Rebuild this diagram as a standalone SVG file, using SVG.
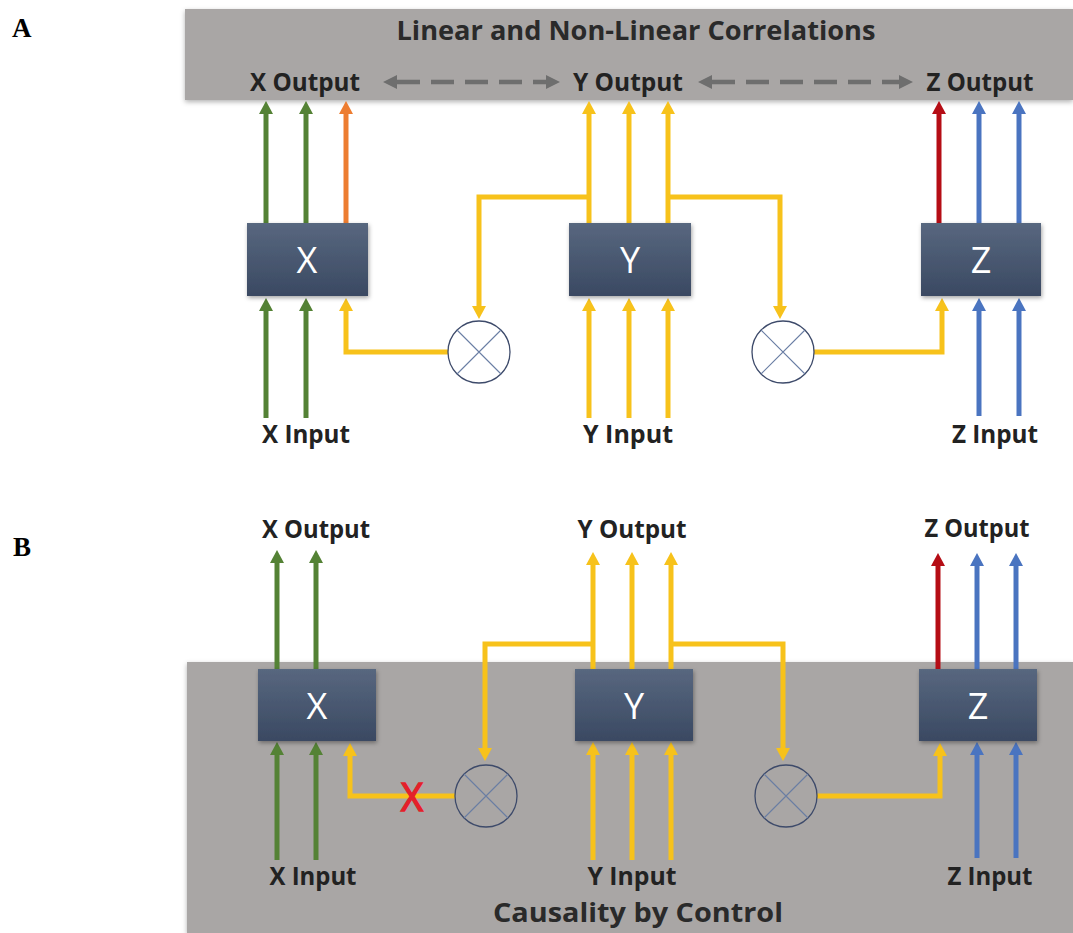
<svg xmlns="http://www.w3.org/2000/svg" width="1073" height="933" viewBox="0 0 1073 933">
<defs>
<style>
.lbl{font-family:"Open Sans","Liberation Sans",sans-serif;font-weight:bold;font-size:25px;fill:#222;text-anchor:middle}
.ttl{font-family:"Open Sans","Liberation Sans",sans-serif;font-weight:bold;font-size:27px;fill:#2a2a2a;text-anchor:middle}
.node{font-family:"Open Sans","Liberation Sans",sans-serif;font-size:36px;fill:#fff;text-anchor:middle}
.panel{font-family:"Liberation Serif",serif;font-weight:bold;font-size:27px;fill:#000}
.box{fill:url(#boxg);filter:url(#sh)}
.g{stroke:#548235;stroke-width:5;fill:none}
.o{stroke:#ed7d31;stroke-width:5;fill:none}
.y{stroke:#f7c21b;stroke-width:5;fill:none}
.r{stroke:#b50d15;stroke-width:5;fill:none}
.b{stroke:#4a74c0;stroke-width:5;fill:none}
.circ{fill:none;stroke:#3d4a6a;stroke-width:1.3}
.cx{stroke:#6a7ea4;stroke-width:1.1}
.dash{stroke:#6e6e6e;stroke-width:4.5;fill:none;stroke-dasharray:23 11}
</style>
<linearGradient id="boxg" x1="0" y1="0" x2="0" y2="1">
<stop offset="0" stop-color="#58677f"/>
<stop offset="1" stop-color="#3a4962"/>
</linearGradient>
<filter id="sh" x="-10%" y="-10%" width="125%" height="130%">
<feDropShadow dx="1" dy="2" stdDeviation="2" flood-color="#000" flood-opacity="0.35"/>
</filter>
<filter id="bsh" x="-5%" y="-20%" width="110%" height="140%">
<feDropShadow dx="0" dy="2" stdDeviation="2.5" flood-color="#000" flood-opacity="0.3"/>
</filter>
<marker id="mg" markerUnits="userSpaceOnUse" markerWidth="14" markerHeight="14" refX="0" refY="7" orient="auto"><path d="M0,0L13,7L0,14z" fill="#548235"/></marker>
<marker id="mo" markerUnits="userSpaceOnUse" markerWidth="14" markerHeight="14" refX="0" refY="7" orient="auto"><path d="M0,0L13,7L0,14z" fill="#ed7d31"/></marker>
<marker id="my" markerUnits="userSpaceOnUse" markerWidth="14" markerHeight="14" refX="0" refY="7" orient="auto"><path d="M0,0L13,7L0,14z" fill="#f7c21b"/></marker>
<marker id="mr" markerUnits="userSpaceOnUse" markerWidth="14" markerHeight="14" refX="0" refY="7" orient="auto"><path d="M0,0L13,7L0,14z" fill="#b50d15"/></marker>
<marker id="mb" markerUnits="userSpaceOnUse" markerWidth="14" markerHeight="14" refX="0" refY="7" orient="auto"><path d="M0,0L13,7L0,14z" fill="#4a74c0"/></marker>
<marker id="md" markerUnits="userSpaceOnUse" markerWidth="16" markerHeight="14" refX="0" refY="7" orient="auto"><path d="M0,0L14,7L0,14z" fill="#6e6e6e"/></marker>
<marker id="mds" markerUnits="userSpaceOnUse" markerWidth="16" markerHeight="14" refX="0" refY="7" orient="auto-start-reverse"><path d="M0,0L14,7L0,14z" fill="#6e6e6e"/></marker>
</defs>
<rect width="1073" height="933" fill="#fff"/>

<!-- bands -->
<rect id="bandA" x="185" y="9" width="888" height="91" fill="#a9a6a5" filter="url(#bsh)"/>
<rect id="bandB" x="187" y="662" width="886" height="271" fill="#a9a6a5" filter="url(#bsh)"/>

<text class="panel" x="12" y="37">A</text>
<text class="panel" x="13" y="556">B</text>

<text class="ttl" x="636" y="40" textLength="479" lengthAdjust="spacingAndGlyphs">Linear and Non-Linear Correlations</text>

<!-- connectors -->
<g id="connectors">
<path class="dash" d="M397,82H546" marker-start="url(#mds)" marker-end="url(#md)"/>
<path class="dash" d="M712,82H899" marker-start="url(#mds)" marker-end="url(#md)"/>
<path class="g" d="M266,223V114" marker-end="url(#mg)"/>
<path class="g" d="M306,223V114" marker-end="url(#mg)"/>
<path class="o" d="M346,223V114" marker-end="url(#mo)"/>
<path class="y" d="M589,223V114" marker-end="url(#my)"/>
<path class="y" d="M629,223V114" marker-end="url(#my)"/>
<path class="y" d="M668,223V114" marker-end="url(#my)"/>
<path class="r" d="M939,223V114" marker-end="url(#mr)"/>
<path class="b" d="M979,223V114" marker-end="url(#mb)"/>
<path class="b" d="M1019,223V114" marker-end="url(#mb)"/>
<path class="y" d="M589,197H479V306" marker-end="url(#my)"/>
<path class="y" d="M668,197H780V306" marker-end="url(#my)"/>
<path class="y" d="M448,352H346V311" marker-end="url(#my)"/>
<path class="y" d="M814,352H942V311" marker-end="url(#my)"/>
<path class="g" d="M266,418V311" marker-end="url(#mg)"/>
<path class="g" d="M306,418V311" marker-end="url(#mg)"/>
<path class="y" d="M589,418V311" marker-end="url(#my)"/>
<path class="y" d="M629,418V311" marker-end="url(#my)"/>
<path class="y" d="M668,418V311" marker-end="url(#my)"/>
<path class="b" d="M979,416V311" marker-end="url(#mb)"/>
<path class="b" d="M1019,416V311" marker-end="url(#mb)"/>

<path class="g" d="M277,669V563" marker-end="url(#mg)"/>
<path class="g" d="M316,669V563" marker-end="url(#mg)"/>
<path class="y" d="M593,669V565" marker-end="url(#my)"/>
<path class="y" d="M632,669V565" marker-end="url(#my)"/>
<path class="y" d="M671,669V565" marker-end="url(#my)"/>
<path class="r" d="M938,669V566" marker-end="url(#mr)"/>
<path class="b" d="M977,669V566" marker-end="url(#mb)"/>
<path class="b" d="M1016,669V566" marker-end="url(#mb)"/>
<path class="y" d="M593,644H485V748" marker-end="url(#my)"/>
<path class="y" d="M671,644H783V748" marker-end="url(#my)"/>
<path class="y" d="M455,796H350V756" marker-end="url(#my)"/>
<path class="y" d="M817,796H940V756" marker-end="url(#my)"/>
<path class="g" d="M277,860V755" marker-end="url(#mg)"/>
<path class="g" d="M316,860V755" marker-end="url(#mg)"/>
<path class="y" d="M593,860V755" marker-end="url(#my)"/>
<path class="y" d="M632,860V755" marker-end="url(#my)"/>
<path class="y" d="M671,860V755" marker-end="url(#my)"/>
<path class="b" d="M977,858V755" marker-end="url(#mb)"/>
<path class="b" d="M1016,858V755" marker-end="url(#mb)"/>
</g>

<g id="nodeXA"><rect class="box" x="247" y="223" width="121" height="73"/><text class="node" x="307" y="273">X</text></g>
<g id="nodeYA"><rect class="box" x="569" y="223" width="122" height="73"/><text class="node" x="630" y="273">Y</text></g>
<g id="nodeZA"><rect class="box" x="921" y="223" width="120" height="73"/><text class="node" x="981" y="273">Z</text></g>
<g id="mulA1"><circle class="circ" cx="479" cy="352" r="31"/><path class="cx" d="M457,330L501,374M501,330L457,374"/></g>
<g id="mulA2"><circle class="circ" cx="783" cy="352" r="31"/><path class="cx" d="M761,330L805,374M805,330L761,374"/></g>

<g id="nodeXB"><rect class="box" x="258" y="669" width="118" height="72"/><text class="node" x="317" y="719">X</text></g>
<g id="nodeYB"><rect class="box" x="575" y="669" width="118" height="72"/><text class="node" x="634" y="719">Y</text></g>
<g id="nodeZB"><rect class="box" x="919" y="669" width="118" height="72"/><text class="node" x="978" y="719">Z</text></g>
<g id="mulB1"><circle class="circ" cx="486" cy="796" r="31"/><path class="cx" d="M464,774L508,818M508,774L464,818"/></g>
<g id="mulB2"><circle class="circ" cx="786" cy="796" r="31"/><path class="cx" d="M764,774L808,818M808,774L764,818"/></g>
<text id="cut" x="412" y="811" font-family="Open Sans, Liberation Sans, sans-serif" font-size="38" fill="#e4202a" stroke="#e4202a" stroke-width="1.5" text-anchor="middle">X</text>

<text class="lbl" x="305" y="91" textLength="110" lengthAdjust="spacingAndGlyphs">X Output</text>
<text class="lbl" x="628" y="91" textLength="110" lengthAdjust="spacingAndGlyphs">Y Output</text>
<text class="lbl" x="980" y="91" textLength="107" lengthAdjust="spacingAndGlyphs">Z Output</text>
<text class="lbl" x="306" y="443" textLength="88" lengthAdjust="spacingAndGlyphs">X Input</text>
<text class="lbl" x="628" y="443" textLength="90" lengthAdjust="spacingAndGlyphs">Y Input</text>
<text class="lbl" x="995" y="443" textLength="86" lengthAdjust="spacingAndGlyphs">Z Input</text>
<text class="lbl" x="316" y="538" textLength="108" lengthAdjust="spacingAndGlyphs">X Output</text>
<text class="lbl" x="632" y="538" textLength="109" lengthAdjust="spacingAndGlyphs">Y Output</text>
<text class="lbl" x="977" y="537" textLength="105" lengthAdjust="spacingAndGlyphs">Z Output</text>
<text class="lbl" x="313" y="885" textLength="87" lengthAdjust="spacingAndGlyphs">X Input</text>
<text class="lbl" x="632" y="885" textLength="89" lengthAdjust="spacingAndGlyphs">Y Input</text>
<text class="lbl" x="990" y="885" textLength="85" lengthAdjust="spacingAndGlyphs">Z Input</text>
<text class="ttl" x="638" y="922" textLength="290" lengthAdjust="spacingAndGlyphs">Causality by Control</text>
</svg>
